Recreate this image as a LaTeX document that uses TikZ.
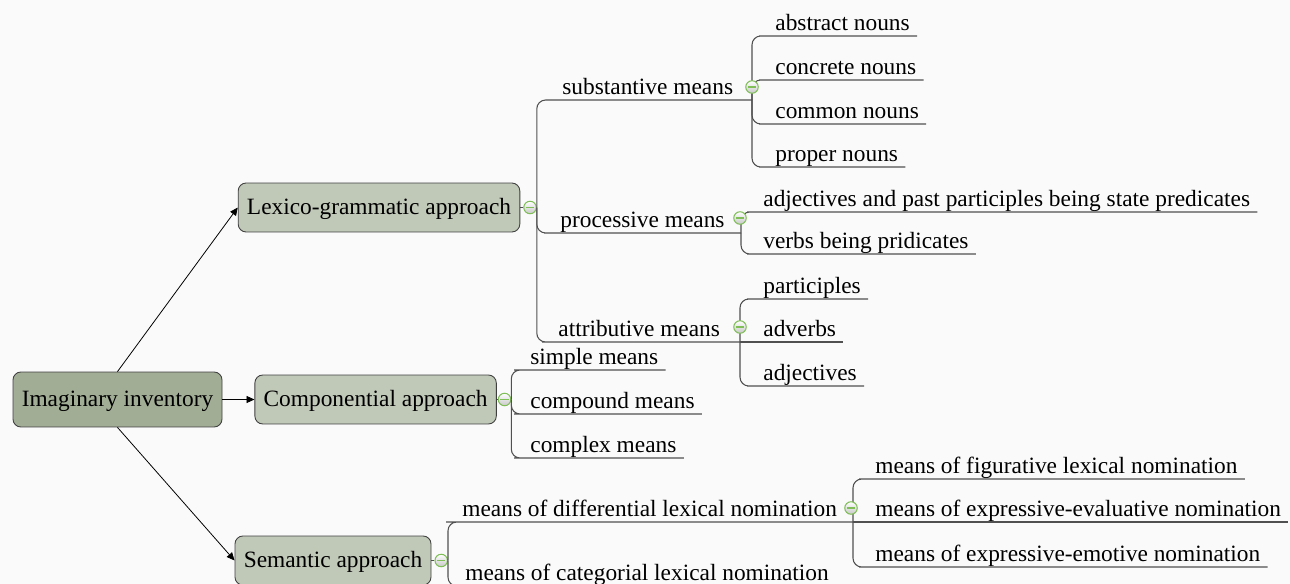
\documentclass[tikz,border=0pt]{standalone}
\usepackage{fontspec}
\setmainfont{Liberation Serif}
\usepackage{xcolor}
\usetikzlibrary{positioning,arrows.meta}

\definecolor{rootcol}{RGB}{162,173,149}
\definecolor{topiccol}{RGB}{192,200,184}
\definecolor{foldcol}{RGB}{128,190,88}
\definecolor{linecol}{RGB}{80,80,80}
\definecolor{bgcol}{RGB}{250,250,250}

\begin{document}
\begin{tikzpicture}[x=0.02cm, y=-0.02cm, node distance=0.06cm,
    every node/.style={font=\fontsize{13.3pt}{15pt}\selectfont},
    topic/.style={draw=black!75, line width=0.5pt, rounded corners=4.5pt, fill=topiccol, inner xsep=5pt, text depth=1pt, minimum height=0.98cm},
    central/.style={topic, fill=rootcol, minimum height=1.1cm},
    leaf/.style={anchor=south west, inner xsep=4pt, inner ysep=1pt, text depth=1.8pt},
    fold/.style={circle, draw=foldcol, line width=0.6pt, minimum size=0.25cm, inner sep=0pt, top color=white, bottom color=black!22,
        path picture={\draw[foldcol, line width=0.7pt] ([xshift=-2.4pt]path picture bounding box.center) -- ([xshift=2.4pt]path picture bounding box.center);}},
    branch/.style={draw=linecol, line width=0.6pt, rounded corners=5pt},
    arr/.style={draw=black, line width=0.45pt, -{Triangle[length=4.5pt, width=4pt]}}]
\path[use as bounding box, fill=bgcol] (0,0) rectangle (1290,584);

\node[central] (root) at (117.5,399.5) {Imaginary inventory};
\node[topic] (lex) at (379,207.5) {Lexico-grammatic approach};
\node[topic, right=0.64cm of root] (comp) {Componential approach};
\node[topic] (sem) at (333,560.5) {Semantic approach};

\draw[arr] (root.north) -- (lex.west);
\draw[arr] (root) -- (comp);
\draw[arr] (root.south) -- (sem.west);

\node[fold, right=of lex] (lexc) {};
\node[fold, right=0.02cm of comp] (compc) {};
\node[fold, right=of sem] (semc) {};

\node[leaf] (sub) at (555,100) {substantive means};
\node[leaf] (pro) at (553,233) {processive means};
\node[leaf] (att) at (551,342) {attributive means};
\node[leaf] (sim) at (523,370) {simple means};
\node[leaf] (cpd) at (523,414) {compound means};
\node[leaf] (cpx) at (523,458) {complex means};
\node[leaf] (dif) at (455,522) {means of differential lexical nomination};
\node[leaf] (cat) at (458,586) {means of categorial lexical nomination};

\node[leaf] (abs) at (768,36) {abstract nouns};
\node[leaf] (con) at (768,80) {concrete nouns};
\node[leaf] (com) at (768,124) {common nouns};
\node[leaf] (prp) at (768,167) {proper nouns};
\node[leaf] (adj) at (756,212) {adjectives and past participles being state predicates};
\node[leaf] (vrb) at (756,254) {verbs being pridicates};
\node[leaf] (par) at (756,299) {participles};
\node[leaf] (adv) at (756,342) {adverbs};
\node[leaf] (ajt) at (756,386) {adjectives};
\node[leaf] (fig) at (868,479) {means of figurative lexical nomination};
\node[leaf] (eva) at (868,522) {means of expressive-evaluative nomination};
\node[leaf] (emo) at (868,567) {means of expressive-emotive nomination};

\coordinate (subj) at (752,100);
\coordinate (proj) at (741,233);
\coordinate (attj) at (740,342);
\coordinate (difj) at (853,522);

\draw[branch] (lex) -- (lexc);
\draw[branch] (comp) -- (compc);
\draw[branch] (sem) -- (semc);

\draw[branch] (lexc.east) |- (sub.south west) -- (subj);
\draw[branch] (lexc.east) |- (pro.south west) -- (proj);
\draw[branch] (lexc.east) |- (att.south west) -- (attj);
\draw[branch] (compc.east) |- (sim.south west) -- (sim.south east);
\draw[branch] (compc.east) |- (cpd.south west) -- (cpd.south east);
\draw[branch] (compc.east) |- (cpx.south west) -- (cpx.south east);
\draw[branch] (semc.east) |- (dif.south west) -- (difj);
\draw[branch] (semc.east) |- (cat.south west) -- (cat.south east);

\draw[branch] (subj) |- (abs.south west) -- (abs.south east);
\draw[branch] (subj) |- (con.south west) -- (con.south east);
\draw[branch] (subj) |- (com.south west) -- (com.south east);
\draw[branch] (subj) |- (prp.south west) -- (prp.south east);
\draw[branch] (proj) |- (adj.south west) -- (adj.south east);
\draw[branch] (proj) |- (vrb.south west) -- (vrb.south east);
\draw[branch] (attj) |- (par.south west) -- (par.south east);
\draw[branch] (attj) -- (adv.south west) -- (adv.south east);
\draw[branch] (attj) |- (ajt.south west) -- (ajt.south east);
\draw[branch] (difj) |- (fig.south west) -- (fig.south east);
\draw[branch] (difj) -- (eva.south west) -- (eva.south east);
\draw[branch] (difj) |- (emo.south west) -- (emo.south east);

\node[fold] (subc) at (752,87) {};
\node[fold] (proc) at (740,218) {};
\node[fold] (attc) at (740,327) {};
\node[fold] (difc) at (851,508) {};
\end{tikzpicture}
\end{document}
